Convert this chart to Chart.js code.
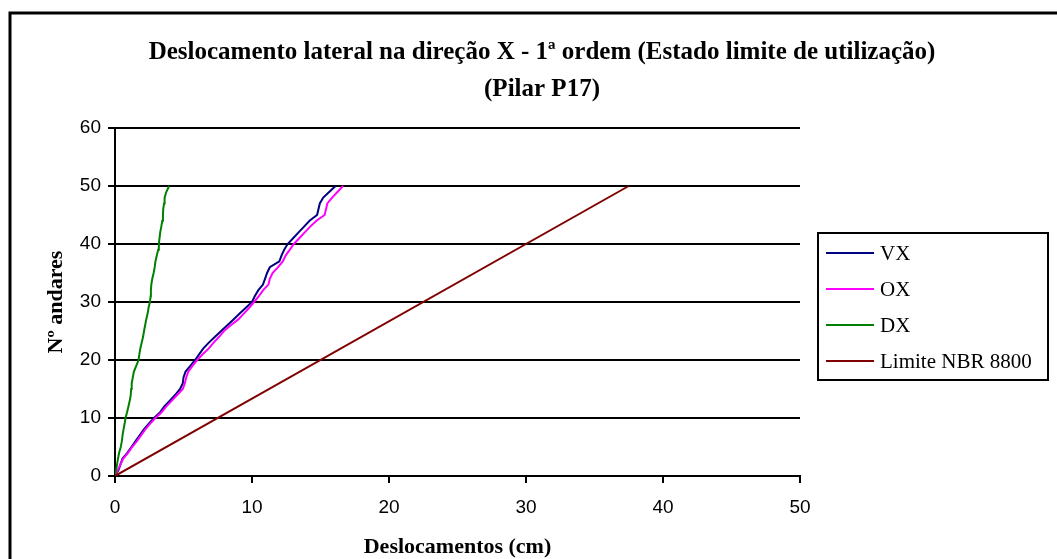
<!DOCTYPE html>
<html>
<head>
<meta charset="utf-8">
<script src="https://cdn.jsdelivr.net/npm/chart.js@4.4.1/dist/chart.umd.min.js"></script>
<style>
  html, body { margin: 0; padding: 0; background: #fff; overflow: hidden; }
</style>
</head>
<body>
<canvas id="chart" width="1057" height="580"></canvas>
<script>
// floor number (0 = base) and lateral displacement per floor, in cm
const floors = [0, 1, 2, 3, 4, 5, 6, 7, 8, 9, 10, 11, 12, 13, 14, 15, 16, 17, 18, 19, 20,
  21, 22, 23, 24, 25, 26, 27, 28, 29, 30, 31, 32, 33, 34, 35, 36, 37, 38, 39, 40,
  41, 42, 43, 44, 45, 46, 47, 48, 49, 50];

const vx = [0, 0.25, 0.4, 0.55, 0.9, 1.2, 1.5, 1.8, 2.1, 2.45, 2.85, 3.3, 3.6, 4.0, 4.4, 4.75,
  4.95, 5.0, 5.15, 5.5, 5.85, 6.15, 6.45, 6.85, 7.3, 7.75, 8.2, 8.65, 9.1, 9.55, 10.0,
  10.2, 10.45, 10.8, 10.95, 11.1, 11.3, 12.0, 12.15, 12.35, 12.6,
  13.0, 13.4, 13.8, 14.2, 14.75, 14.85, 14.95, 15.2, 15.65, 16.1];

const ox = [0, 0.2, 0.4, 0.6, 0.95, 1.25, 1.6, 1.9, 2.2, 2.55, 2.95, 3.4, 3.75, 4.15, 4.55, 4.95,
  5.1, 5.2, 5.35, 5.65, 6.0, 6.4, 6.85, 7.2, 7.6, 7.95, 8.45, 9.0, 9.4, 9.8, 10.15,
  10.5, 10.8, 11.2, 11.3, 11.5, 11.9, 12.25, 12.45, 12.75, 13.05,
  13.45, 13.85, 14.25, 14.7, 15.3, 15.4, 15.5, 15.85, 16.25, 16.65];

const dx = [0, 0.08, 0.15, 0.22, 0.3, 0.42, 0.5, 0.55, 0.62, 0.7, 0.77, 0.88, 0.98, 1.08, 1.15, 1.18,
  1.22, 1.3, 1.38, 1.55, 1.72, 1.78, 1.85, 1.95, 2.05, 2.12, 2.2, 2.28, 2.38, 2.45, 2.55,
  2.6, 2.62, 2.65, 2.72, 2.82, 2.9, 2.95, 3.05, 3.15, 3.2,
  3.25, 3.3, 3.38, 3.45, 3.5, 3.52, 3.58, 3.62, 3.75, 3.95];

// NBR 8800 limit: straight line from the base to the top floor
const limitFloors = [0, 50];
const limitX = [0, 37.5];

const xTickValues = [0, 10, 20, 30, 40, 50];
const yTickValues = [0, 10, 20, 30, 40, 50, 60];

const titleLines = [
  'Deslocamento lateral na direção X - 1ª ordem (Estado limite de utilização)',
  '(Pilar P17)'
];

const toPoints = (xs, ys) => ys.map((y, i) => ({ x: xs[i], y: y }));

// outer frame and two-line title, centred on the frame
const framePlugin = {
  id: 'frame',
  beforeDraw(chart) {
    const ctx = chart.ctx;
    ctx.save();
    ctx.fillStyle = '#fff';
    ctx.fillRect(0, 0, chart.width, chart.height);
    ctx.strokeStyle = '#000';
    ctx.lineWidth = 3;
    ctx.strokeRect(10, 13, 1064, 600);
    ctx.fillStyle = '#000';
    ctx.font = 'bold 25px "Liberation Serif"';
    ctx.textAlign = 'center';
    ctx.textBaseline = 'middle';
    titleLines.forEach((t, i) => ctx.fillText(t, 542, 53 + i * 37));
    ctx.restore();
  }
};

// boxed legend to the right of the plot
const boxLegend = {
  id: 'boxLegend',
  afterDraw(chart) {
    const ctx = chart.ctx;
    const left = chart.chartArea.right + 18;
    const top = 233, w = 230, h = 147;
    ctx.save();
    ctx.fillStyle = '#fff';
    ctx.fillRect(left, top, w, h);
    ctx.strokeStyle = '#000';
    ctx.lineWidth = 2;
    ctx.strokeRect(left, top, w, h);
    ctx.font = '21px "Liberation Serif"';
    ctx.textBaseline = 'middle';
    ctx.textAlign = 'left';
    chart.data.datasets.forEach((ds, i) => {
      const y = top + 20 + i * 36;
      ctx.strokeStyle = ds.borderColor;
      ctx.lineWidth = ds.borderWidth;
      ctx.beginPath();
      ctx.moveTo(left + 8, y);
      ctx.lineTo(left + 56, y);
      ctx.stroke();
      ctx.fillStyle = '#000';
      ctx.fillText(ds.label, left + 62, y + 1);
    });
    ctx.restore();
  }
};

const line = (label, xs, ys, color, order) => ({
  label: label,
  data: toPoints(xs, ys),
  showLine: true,
  borderColor: color,
  backgroundColor: color,
  borderWidth: 2,
  pointRadius: 0,
  tension: 0,
  order: order
});

new Chart(document.getElementById('chart'), {
  type: 'scatter',
  data: {
    datasets: [
      line('VX', vx, floors, '#000080', 4),
      line('OX', ox, floors, '#ff00ff', 3),
      line('DX', dx, floors, '#008000', 2),
      line('Limite NBR 8800', limitX, limitFloors, '#800000', 1)
    ]
  },
  options: {
    responsive: false,
    animation: false,
    layout: { padding: { left: 10, top: 128, right: 257, bottom: 19 } },
    plugins: {
      legend: { display: false },
      tooltip: { enabled: false }
    },
    scales: {
      x: {
        min: 0,
        max: 50,
        afterBuildTicks: s => { s.ticks = xTickValues.map(v => ({ value: v })); },
        afterFit: s => { s.height = 85; },
        grid: { drawOnChartArea: false, color: '#000', lineWidth: 2, tickLength: 7 },
        border: { color: '#000', width: 2 },
        ticks: { color: '#000', padding: 13, font: { family: 'Liberation Sans', size: 19 } },
        title: {
          display: true,
          text: 'Deslocamentos (cm)',
          color: '#000',
          font: { family: 'Liberation Serif', weight: 'bold', size: 22 },
          padding: { top: 0, bottom: 0 }
        }
      },
      y: {
        min: 0,
        max: 60,
        afterBuildTicks: s => { s.ticks = yTickValues.map(v => ({ value: v })); },
        afterFit: s => { s.width = 105; },
        grid: { color: '#000', lineWidth: 2, tickLength: 7 },
        border: { color: '#000', width: 2 },
        ticks: { color: '#000', padding: 7, font: { family: 'Liberation Sans', size: 19 } },
        title: {
          display: true,
          text: 'Nº andares',
          color: '#000',
          font: { family: 'Liberation Serif', weight: 'bold', size: 22 },
          padding: { top: 33, bottom: 0 }
        }
      }
    }
  },
  plugins: [framePlugin, boxLegend]
});
</script>
</body>
</html>
